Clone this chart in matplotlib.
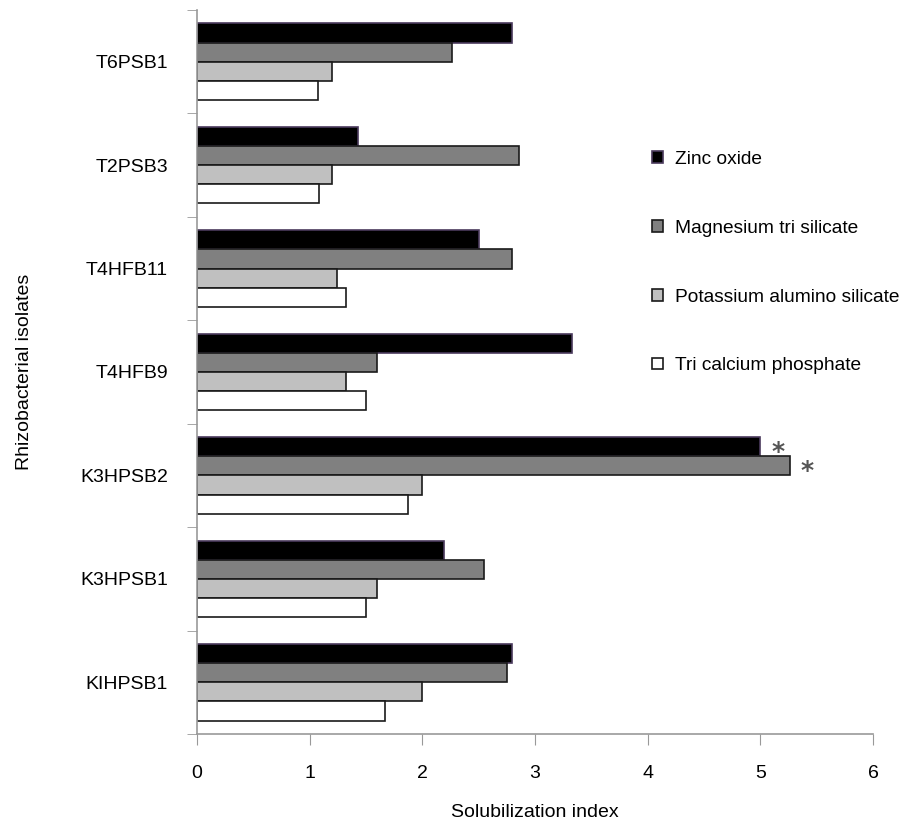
import numpy as np
import matplotlib
matplotlib.use("Agg")
import matplotlib.pyplot as plt

plt.rcParams['font.family'] = ['Liberation Sans', 'DejaVu Sans']

isolates = ['KIHPSB1', 'K3HPSB1', 'K3HPSB2', 'T4HFB9', 'T4HFB11', 'T2PSB3', 'T6PSB1']
series = ['Zinc oxide', 'Magnesium tri silicate', 'Potassium alumino silicate', 'Tri calcium phosphate']

zinc_oxide = [2.80, 2.19, 5.00, 3.33, 2.50, 1.43, 2.80]
magnesium_tri_silicate = [2.75, 2.55, 5.26, 1.60, 2.80, 2.86, 2.26]
potassium_alumino_silicate = [2.00, 1.60, 2.00, 1.32, 1.24, 1.20, 1.20]
tri_calcium_phosphate = [1.67, 1.50, 1.87, 1.50, 1.32, 1.08, 1.07]

# significant bars marked with an asterisk: (series index, isolate index)
starred = [(0, 2), (1, 2)]

values = [zinc_oxide, magnesium_tri_silicate, potassium_alumino_silicate, tri_calcium_phosphate]
fills = ['#000000', '#808080', '#c0c0c0', '#ffffff']
edges = ['#4a3a5c', '#1a1a1a', '#1a1a1a', '#1a1a1a']

fs = 14

fig = plt.figure(figsize=(9.09, 8.24), dpi=100)
ax = fig.add_axes([0.2167, 0.1092, 0.7437, 0.8787])

y = np.arange(len(isolates))
h = 0.185
offsets = [1.5 * h, 0.5 * h, -0.5 * h, -1.5 * h]

for vals, fc, ec, off, name in zip(values, fills, edges, offsets, series):
    ax.barh(y + off, vals, height=h, color=fc, edgecolor=ec, linewidth=1.2, label=name)

for s, i in starred:
    ax.text(values[s][i] + 0.1, y[i] + offsets[s] - 0.05, '*', fontsize=18,
            color='#555555', fontweight='bold', ha='left', va='center',
            family='DejaVu Sans')

ax.set_xlim(0, 6)
ax.set_ylim(-0.5, len(isolates) - 0.5)
ax.set_xticks(range(0, 7))
ax.set_yticks(y)
ax.set_yticklabels(isolates)
ax.set_yticks(np.arange(-0.5, len(isolates), 1.0), minor=True)

ax.tick_params(axis='y', which='major', length=0, pad=21, labelsize=fs)
ax.tick_params(axis='y', which='minor', length=7, color='#999999', direction='out')
ax.tick_params(axis='x', length=8, color='#999999', direction='out', pad=14, labelsize=fs)

for side in ['top', 'right']:
    ax.spines[side].set_visible(False)
for side in ['left', 'bottom']:
    ax.spines[side].set_color('#999999')
    ax.spines[side].set_linewidth(1.2)

ax.set_xlabel('Solubilization index', fontsize=fs)
ax.set_ylabel('Rhizobacterial isolates', fontsize=fs)
ax.xaxis.set_label_coords(0.5, -0.096)
ax.yaxis.set_label_coords(-0.242, 0.5)

fig.legend(loc='upper left', bbox_to_anchor=(0.709, 0.826), frameon=False,
           fontsize=13.8, handlelength=0.57, handleheight=0.57, handletextpad=0.62,
           labelspacing=2.7, borderaxespad=0)

fig.savefig('out.png', dpi=100)
